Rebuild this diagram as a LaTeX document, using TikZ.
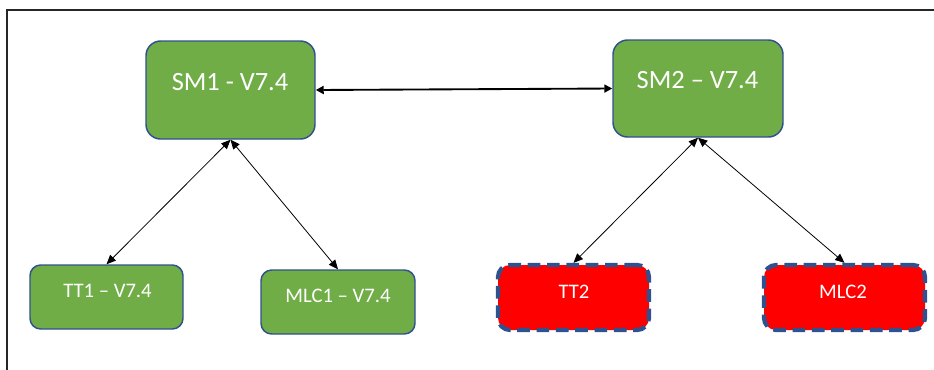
\documentclass[tikz,border=0pt]{standalone}
\usepackage{fontspec}
\setmainfont{Carlito}
\usetikzlibrary{arrows.meta}
\definecolor{offgreen}{HTML}{70AD47}
\definecolor{offblue}{HTML}{2F528F}
\definecolor{offred}{HTML}{FF0000}
\tikzset{
  bigbox/.style={draw=offblue, line width=1.1pt, fill=offgreen, rounded corners=11pt, inner sep=0pt},
  smallbox/.style={draw=offblue, line width=1.1pt, fill=offgreen, rounded corners=8pt, inner sep=0pt},
  redbox/.style={draw=offblue, line width=3.2pt, fill=offred, rounded corners=9pt, inner sep=0pt, dash pattern=on 9.5pt off 5pt},
  bigtxt/.style={text=white, font=\fontsize{19.8pt}{22pt}\selectfont, inner sep=0pt},
  smalltxt/.style={text=white, font=\fontsize{15.5pt}{18pt}\selectfont, inner sep=0pt},
  conn/.style={black, line width=0.6pt, {Triangle[length=7pt,width=6pt]}-{Triangle[length=7pt,width=6pt]}},
  mainconn/.style={black, line width=1.4pt, {Triangle[length=6pt,width=6pt]}-{Triangle[length=6pt,width=6pt]}},
  frame/.style={black!85, line width=1.5pt}
}
\begin{document}
\begin{tikzpicture}[x=0.75pt, y=-0.75pt]
\useasboundingbox (0,0) rectangle (934,369);
\draw[frame] (7,380) -- (7,10) -- (945,10);
% boxes
\node[bigbox, minimum width=169*0.75pt, minimum height=98*0.75pt] (sm1) at (230.5,90) {};
\node[bigbox, minimum width=170*0.75pt, minimum height=97*0.75pt] (sm2) at (698,88.5) {};
\node[smallbox, minimum width=153*0.75pt, minimum height=64*0.75pt] (tt1) at (106.5,297) {};
\node[smallbox, minimum width=154*0.75pt, minimum height=64*0.75pt] (mlc1) at (338,302) {};
\node[redbox, minimum width=151*0.75pt, minimum height=65*0.75pt] (tt2) at (573.5,297.5) {};
\node[redbox, minimum width=161*0.75pt, minimum height=65*0.75pt] (mlc2) at (844.5,297.5) {};
% texts
\node[bigtxt] (sm1t) at (230,82) {SM1 - V7.4};
\node[bigtxt] (sm2t) at (697.5,80) {SM2 – V7.4};
\node[smalltxt] (tt1t) at (107.5,291) {TT1 – V7.4};
\node[smalltxt] (mlc1t) at (338,295.5) {MLC1 – V7.4};
\node[smalltxt] (tt2t) at (574,291.5) {TT2};
\node[smalltxt] (mlc2t) at (843,291.5) {MLC2};
% connectors
\draw[mainconn] (sm1.east) -- (sm2.west);
\draw[conn] (sm1.south) -- (tt1.north);
\draw[conn] (sm1.south) -- (mlc1.north);
\draw[conn] (sm2.south) -- (tt2.north);
\draw[conn] (sm2.south) -- (mlc2.north);
\end{tikzpicture}
\end{document}
